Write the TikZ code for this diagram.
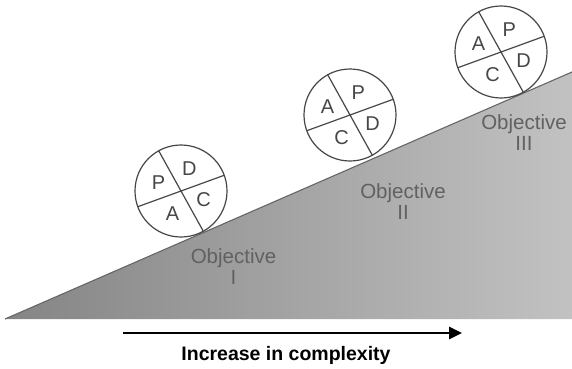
\documentclass[tikz,border=0pt]{standalone}
\usepackage{fontspec}
\setmainfont{Liberation Sans}
\usetikzlibrary{arrows.meta}

\tikzset{
  pdca/.style={circle, draw=black!72, fill=white, line width=1.2pt,
    minimum size=92pt, inner sep=0pt, outer sep=0pt},
  divider/.style={draw=black!72, line width=1.2pt},
  letter/.style={text=black!72, inner sep=0pt, font=\fontsize{20}{20}\selectfont},
  objlabel/.style={align=center, text=black!62, anchor=north, inner sep=0pt,
    font=\fontsize{20.5}{21}\selectfont},
}

\begin{document}
\begin{tikzpicture}[x=1pt,y=1pt]
  \useasboundingbox (0,0) rectangle (572,368);
  % ---- Slope ----
  \coordinate (tip) at (5,49);
  \coordinate (top) at (572,296);
  \coordinate (foot) at (572,49);
  \shade[left color=black!48, right color=black!24] (tip) -- (top) -- (foot) -- cycle;
  \draw[black!60, line width=1.1pt] (tip) -- (top);
  % ---- Objective I ----
  \begin{scope}[shift={(181,177)}]
    \node[pdca] (c1) at (0,0) {};
    \draw[divider] (c1.20) -- (c1.200) (c1.119) -- (c1.299);
    \node[letter] (c1d) at (69.5:24) {D};
    \node[letter] (c1p) at (159.5:24) {P};
    \node[letter] (c1a) at (249.5:24) {A};
    \node[letter] (c1c) at (339.5:24) {C};
  \end{scope}
  \node[objlabel] (obj1) at (233.5,120) {Objective\\I};
  % ---- Objective II ----
  \begin{scope}[shift={(350,253)}]
    \node[pdca] (c2) at (0,0) {};
    \draw[divider] (c2.20) -- (c2.200) (c2.119) -- (c2.299);
    \node[letter] (c2p) at (69.5:24) {P};
    \node[letter] (c2a) at (159.5:24) {A};
    \node[letter] (c2c) at (249.5:24) {C};
    \node[letter] (c2d) at (339.5:24) {D};
  \end{scope}
  \node[objlabel] (obj2) at (403,184.5) {Objective\\II};
  % ---- Objective III ----
  \begin{scope}[shift={(501,316)}]
    \node[pdca] (c3) at (0,0) {};
    \draw[divider] (c3.20) -- (c3.200) (c3.119) -- (c3.299);
    \node[letter] (c3p) at (69.5:24) {P};
    \node[letter] (c3a) at (159.5:24) {A};
    \node[letter] (c3c) at (249.5:24) {C};
    \node[letter] (c3d) at (339.5:24) {D};
  \end{scope}
  \node[objlabel] (obj3) at (524,254) {Objective\\III};
  % ---- Complexity arrow ----
  \coordinate (from) at (123,35);
  \coordinate (to) at (462,35);
  \draw[line width=2.6pt, -{Triangle[length=13pt,width=12pt]}] (from) -- (to);
  \node[anchor=base, inner sep=0pt, font=\bfseries\fontsize{19.5}{20}\selectfont] (trend) at (286,8) {Increase in complexity};
\end{tikzpicture}
\end{document}
